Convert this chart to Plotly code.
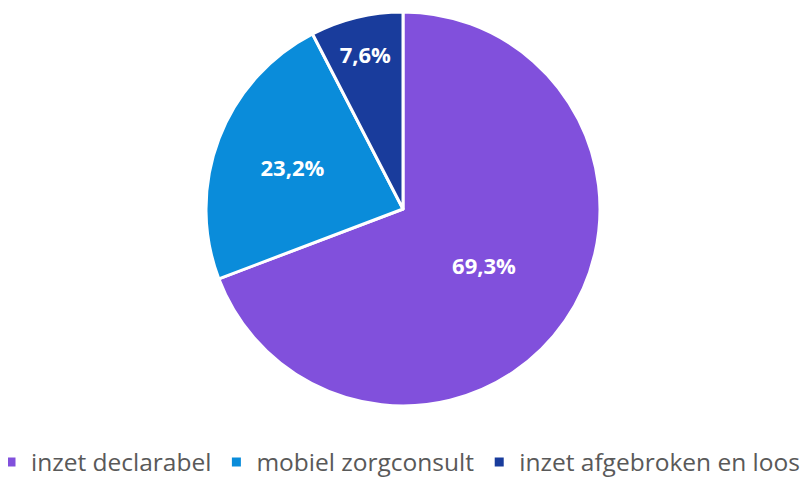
import plotly.graph_objects as go

labels = ["inzet declarabel", "mobiel zorgconsult", "inzet afgebroken en loos"]
values = [69.3, 23.2, 7.6]
text_labels = ["69,3%", "23,2%", "7,6%"]
colors = ["#8150DC", "#0A8CDA", "#193C9C"]

# page body has an 8px margin; figure coordinates = screen - 8
W, H = 830, 469
B = 50
PH = H - B

fig = go.Figure(go.Pie(
    labels=labels,
    values=values,
    text=text_labels,
    textinfo="text",
    textposition="inside",
    insidetextorientation="horizontal",
    sort=False,
    direction="clockwise",
    rotation=0,
    domain=dict(x=[0, 790 / W], y=[1 - 398 / PH, 1 - 4 / PH]),
    marker=dict(colors=colors, line=dict(color="white", width=3)),
    textfont=dict(family="Open Sans", size=22, color="white", weight="bold"),
    hoverinfo="label+text",
))

fig.update_layout(
    width=W, height=H,
    margin=dict(l=0, r=0, t=0, b=B, autoexpand=False),
    paper_bgcolor="white",
    plot_bgcolor="white",
    showlegend=True,
    legend=dict(
        orientation="h",
        x=-17 / W, xanchor="left",
        y=(PH - 454) / PH, yanchor="middle",
        font=dict(family="Open Sans", size=24.5, color="#595959"),
        itemwidth=30,
    ),
)

fig.write_html("out.html")
